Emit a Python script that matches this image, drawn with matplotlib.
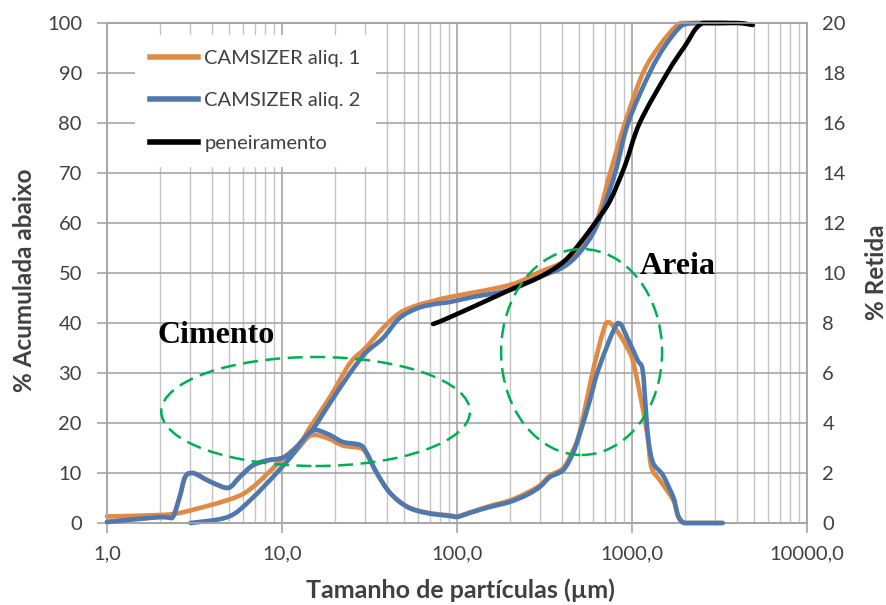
import matplotlib
matplotlib.use("Agg")
import numpy as np
import matplotlib.pyplot as plt
from matplotlib.patches import Ellipse, PathPatch
from matplotlib.path import Path
from matplotlib.lines import Line2D
from matplotlib.ticker import LogLocator, FixedLocator, NullFormatter, FixedFormatter

# ---------------- data ----------------
# cumulative passing (% Acumulada abaixo), left axis
cum1_x = [1, 2, 2.6, 4.9, 6.6, 10, 12.7, 14.5, 18.8, 24.5, 30, 37.8, 47, 60, 75, 91,
          200, 297, 405, 505, 630, 750, 912, 1155, 1440, 1800, 2000, 3400]
cum1_y = [1.3, 1.6, 2.0, 4.6, 6.8, 12.7, 16, 19.2, 25.2, 32, 35, 39, 42, 43.6, 44.5, 45.2,
          47.6, 50.2, 52.2, 55, 60.6, 70, 80, 90, 95.5, 99.5, 100, 100]

cum2_x = [3.0, 4.9, 6.6, 10, 14.5, 18.8, 24.5, 30, 37.8, 47, 60, 75, 91, 123,
          200, 297, 405, 505, 630, 800, 950, 1260, 1550, 1950, 2440, 3470]
cum2_y = [0, 1.2, 4.6, 11.2, 18, 24, 30, 34, 37, 41, 43, 43.8, 44.2, 45.2,
          46.6, 49.2, 51.2, 54.2, 59.5, 70, 80, 90, 95.5, 99.6, 100, 100]

sieve_x = [73, 80, 123, 200, 297, 405, 505, 630, 750, 912, 1106, 1590, 2000, 2540, 4000, 4900]
sieve_y = [39.8, 40.3, 43.2, 46.6, 49.2, 52.2, 56, 60.5, 64.5, 71.5, 80, 90, 95.3, 100, 100, 99.6]

# retained (% Retida), right axis
q1_x = [1, 2, 2.35, 2.6, 2.8, 3.1, 3.9, 4.9, 5.75, 6.8, 8.2, 10, 11.6, 14.5, 15.8, 18.8,
        22.3, 28, 30.5, 34.8, 41.5, 52, 67, 91, 100, 123, 154, 200, 250, 297, 340, 405,
        460, 505, 600, 680, 730, 830, 935, 1010, 1100, 1220, 1290, 1440, 1720, 1980, 3300]
q1_y = [0.04, 0.24, 0.2, 1.04, 1.85, 2.0, 1.65, 1.4, 1.85, 2.3, 2.5, 2.6, 2.9, 3.5, 3.52, 3.35,
        3.1, 3.0, 2.75, 2.0, 1.2, 0.66, 0.42, 0.3, 0.26, 0.46, 0.68, 0.9, 1.2, 1.5, 1.9, 2.2,
        2.9, 3.7, 6.12, 7.6, 8.04, 7.64, 7.04, 6.5, 5.3, 3.6, 2.24, 1.72, 0.92, 0, 0]

q2_x = [1, 2, 2.35, 2.6, 2.8, 3.1, 3.9, 4.9, 5.75, 6.8, 8.2, 10, 11.6, 14.5, 15.8, 18.8,
        22.3, 28, 30.5, 34.8, 41.5, 52, 67, 91, 100, 123, 154, 200, 250, 297, 340, 405,
        460, 505, 575, 650, 830, 935, 1075, 1150, 1200, 1240, 1320, 1500, 1720, 1980, 3300]
q2_y = [0.04, 0.24, 0.2, 1.04, 1.85, 2.0, 1.65, 1.4, 1.85, 2.3, 2.5, 2.6, 2.9, 3.64, 3.72, 3.52,
        3.24, 3.12, 2.8, 2.0, 1.2, 0.64, 0.4, 0.28, 0.24, 0.44, 0.64, 0.84, 1.12, 1.44, 1.84, 2.12,
        2.8, 3.6, 4.92, 6.24, 8.0, 7.44, 6.52, 6.12, 4.52, 3.32, 2.4, 1.92, 1.04, 0, 0]

labels = ["CAMSIZER aliq. 1", "CAMSIZER aliq. 2", "peneiramento"]
xtick_vals = [1, 10, 100, 1000, 10000]
xtick_labels = ["1,0", "10,0", "100,0", "1000,0", "10000,0"]

# ---------------- style ----------------
plt.rcParams['font.family'] = ['Lato', 'DejaVu Sans']
ORANGE = '#E08A43'
BLUE = '#4E79B0'
GRID = '#A6A6A6'
MINOR = '#C4C4C4'
TXT = '#404040'
GREEN = '#00B050'
LW = 3.3


def smooth_line(axis, xs, ys, color, z):
    """Draw a smoothed line (Bezier through the points, in log-x space, no overshoot)."""
    u = np.log10(np.asarray(xs, float))
    v = np.asarray(ys, float)
    n = len(u)
    verts = [(u[0], v[0])]
    codes = [Path.MOVETO]
    for i in range(n - 1):
        i0 = max(i - 1, 0)
        i3 = min(i + 2, n - 1)
        lo, hi = min(v[i], v[i + 1]), max(v[i], v[i + 1])
        c1 = (u[i] + (u[i + 1] - u[i0]) / 6.0,
              np.clip(v[i] + (v[i + 1] - v[i0]) / 6.0, lo, hi))
        c2 = (u[i + 1] - (u[i3] - u[i]) / 6.0,
              np.clip(v[i + 1] - (v[i3] - v[i]) / 6.0, lo, hi))
        verts += [c1, c2, (u[i + 1], v[i + 1])]
        codes += [Path.CURVE4] * 3
    verts = [(10 ** a, b) for a, b in verts]
    patch = PathPatch(Path(verts, codes), fill=False, edgecolor=color, lw=LW,
                      capstyle='round', joinstyle='round', zorder=z, clip_on=False)
    axis.add_patch(patch)


W, H = 887, 605
fig = plt.figure(figsize=(W / 100, H / 100), dpi=100)
L, R, T, B = 107, 807, 23, 523
ax = fig.add_axes([L / W, (H - B) / H, (R - L) / W, (B - T) / H])
ax.set_xscale('log')
ax.set_xlim(1, 10000)
ax.set_ylim(0, 100)
ax.set_yticks(range(0, 101, 10))

smooth_line(ax, cum1_x, cum1_y, ORANGE, 3)
smooth_line(ax, cum2_x, cum2_y, BLUE, 4)
smooth_line(ax, sieve_x, sieve_y, 'black', 5)

ax2 = ax.twinx()
ax2.set_ylim(0, 20)
ax2.set_yticks(range(0, 21, 2))
ax2.tick_params(axis='y', length=0, labelsize=14.5, labelcolor=TXT, pad=11)
smooth_line(ax2, q1_x, q1_y, ORANGE, 3)
smooth_line(ax2, q2_x, q2_y, BLUE, 4)

# x axis ticks (after twin creation so nothing resets them)
ax.set_xlim(1, 10000)
ax.xaxis.set_major_locator(FixedLocator(xtick_vals))
ax.xaxis.set_major_formatter(FixedFormatter(xtick_labels))
ax.xaxis.set_minor_locator(LogLocator(base=10, subs=[2, 3, 4, 5, 6, 7, 8, 9]))
ax.xaxis.set_minor_formatter(NullFormatter())
ax.grid(which='major', axis='both', color=GRID, lw=1.2)
ax.grid(which='minor', axis='x', color=MINOR, lw=1.0)
ax.set_axisbelow(True)
ax.tick_params(axis='x', which='major', length=7, width=1.2, color=GRID, labelsize=14.5,
               labelcolor=TXT, pad=9)
ax.tick_params(axis='x', which='minor', length=0)
ax.tick_params(axis='y', length=7, width=1.2, color=GRID, labelsize=14.5, labelcolor=TXT, pad=11)
for a in (ax, ax2):
    for s in a.spines.values():
        s.set_color(GRID)
        s.set_linewidth(1.2)

# ellipses (axes fraction)
dash = (0, (6, 3))
e1 = Ellipse((0.298, 0.223), 0.441, 0.218, transform=ax2.transAxes, fill=False,
             edgecolor=GREEN, lw=1.8, linestyle=dash, zorder=6, clip_on=False)
e2 = Ellipse((0.678, 0.342), 0.230, 0.412, transform=ax2.transAxes, fill=False,
             edgecolor=GREEN, lw=1.8, linestyle=dash, zorder=6, clip_on=False)
ax2.add_patch(e1)
ax2.add_patch(e2)

ax2.text(1.955, 36.0 / 5, "Cimento", family=['Liberation Serif'], fontweight='bold',
         fontsize=23, color='black', va='baseline', ha='left', zorder=7)
ax2.text(1111, 49.8 / 5, "Areia", family=['Liberation Serif'], fontweight='bold',
         fontsize=23, color='black', va='baseline', ha='left', zorder=7)

handles = [Line2D([], [], color=ORANGE, lw=4),
           Line2D([], [], color=BLUE, lw=4),
           Line2D([], [], color='black', lw=4)]
leg = ax2.legend(handles, labels, loc='upper left',
                 bbox_to_anchor=((135 - L) / (R - L), (B - 35) / (B - T)),
                 borderaxespad=0, frameon=True, facecolor='white', edgecolor='none',
                 framealpha=1, fancybox=False, fontsize=14.5, handlelength=2.4,
                 handletextpad=0.3, labelspacing=1.25, borderpad=0.75)
for t in leg.get_texts():
    t.set_color(TXT)
leg.set_zorder(10)

fig.text(25 / W, (H - 280) / H, "% Acumulada abaixo", rotation=90, ha='center', va='center',
         fontsize=17.5, fontweight='bold', color=TXT)
fig.text(460 / W, (H - 590) / H, "Tamanho de partículas (µm)", ha='center', va='center',
         fontsize=18, fontweight='bold', color=TXT)
fig.text(877 / W, (H - 272) / H, "% Retida", rotation=90, ha='center', va='center',
         fontsize=17.5, fontweight='bold', color=TXT)

fig.savefig("out.png", dpi=100)
